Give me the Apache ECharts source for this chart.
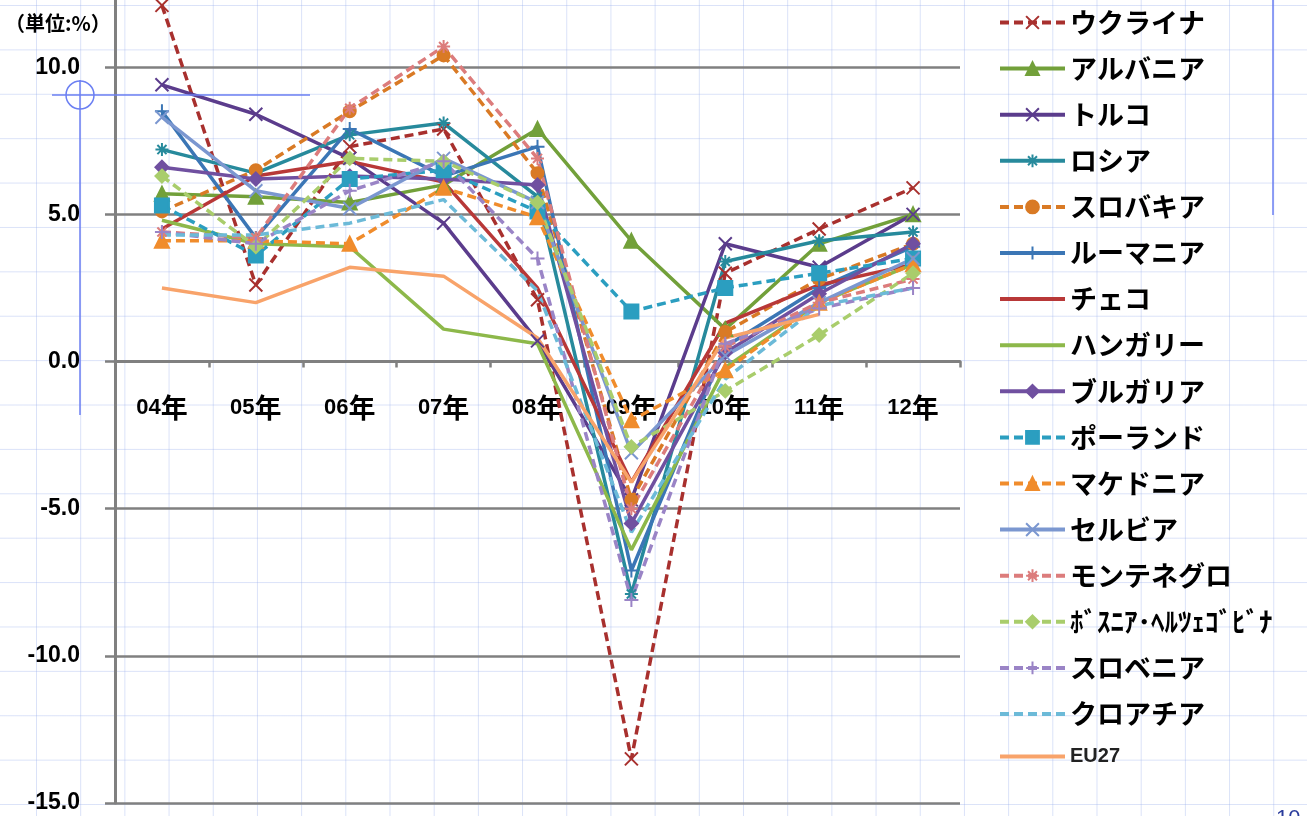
<!DOCTYPE html>
<html><head><meta charset="utf-8">
<script src="https://cdn.jsdelivr.net/npm/echarts@6.0.0/dist/echarts.min.js"></script>
<style>
html,body{margin:0;padding:0;width:1307px;height:816px;overflow:hidden;background-color:#fff;
background-image:linear-gradient(to right, rgba(150,172,235,0.35) 1px, transparent 1px),linear-gradient(to bottom, rgba(150,172,235,0.35) 1px, transparent 1px);
background-size:44.2px 44.4px;background-position:36px 5px;}
#c{width:1307px;height:816px;}
</style></head><body><div id="c"></div>
<script>
const categories = ['04年','05年','06年','07年','08年','09年','10年','11年','12年'];
const yTicks = [-15, -10, -5, 0, 5, 10];
const ukraine    = [12.1, 2.6, 7.3, 7.9, 2.1, -13.5, 3.0, 4.5, 5.9];
const albania    = [5.7, 5.6, 5.4, 6.0, 7.9, 4.1, 1.1, 4.0, 5.0];
const turkey     = [9.4, 8.4, 6.9, 4.7, 0.7, -4.7, 4.0, 3.2, 5.0];
const russia     = [7.2, 6.4, 7.7, 8.1, 5.6, -7.9, 3.4, 4.1, 4.4];
const slovakia   = [5.1, 6.5, 8.5, 10.4, 6.4, -4.7, 1.0, 2.8, 4.0];
const romania    = [8.5, 4.2, 7.9, 6.3, 7.3, -7.1, 0.5, 2.5, 3.9];
const czech      = [4.5, 6.3, 6.8, 6.1, 2.5, -4.1, 1.3, 2.6, 3.3];
const hungary    = [4.8, 4.0, 3.9, 1.1, 0.6, -6.4, -0.2, 2.0, 3.3];
const bulgaria   = [6.6, 6.2, 6.3, 6.2, 6.0, -5.5, 0.3, 2.3, 4.0];
const poland     = [5.3, 3.6, 6.2, 6.5, 5.1, 1.7, 2.5, 3.0, 3.5];
const macedonia  = [4.1, 4.1, 4.0, 5.9, 4.9, -2.0, -0.3, 2.0, 3.3];
const serbia     = [8.3, 5.8, 5.2, 6.9, 5.4, -3.1, 0.2, 2.0, 3.5];
const montenegro = [4.4, 4.2, 8.6, 10.7, 6.9, -5.0, 0.5, 2.0, 2.8];
const bosnia     = [6.3, 3.9, 6.9, 6.8, 5.4, -2.9, -1.0, 0.9, 3.0];
const slovenia   = [4.4, 4.0, 5.8, 6.8, 3.5, -8.1, 0.6, 1.8, 2.5];
const croatia    = [4.3, 4.3, 4.7, 5.5, 2.4, -5.8, -0.6, 1.9, 2.5];
const eu27       = [2.5, 2.0, 3.2, 2.9, 0.8, -4.1, 0.8, 1.6, null];

const X = 'path://M0,0L10,10M10,0L0,10';
const STAR = 'path://M5,0L5,10M0,5L10,5M1.5,1.5L8.5,8.5M8.5,1.5L1.5,8.5';
const PLUS = 'path://M5,0L5,10M0,5L10,5';

const defs = [
  ['ウクライナ', ukraine, '#a8302e', 'dash', X, 13],
  ['アルバニア', albania, '#72a03a', 'solid', 'triangle', 14],
  ['トルコ', turkey, '#5b3c8c', 'solid', X, 13],
  ['ロシア', russia, '#278a9c', 'solid', STAR, 13],
  ['スロバキア', slovakia, '#d97a25', 'dash', 'circle', 12],
  ['ルーマニア', romania, '#3b76b5', 'solid', PLUS, 14],
  ['チェコ', czech, '#b83838', 'solid', null, 0],
  ['ハンガリー', hungary, '#8db84a', 'solid', null, 0],
  ['ブルガリア', bulgaria, '#7050a0', 'solid', 'diamond', 13],
  ['ポーランド', poland, '#2b9ec0', 'dash', 'rect', 14],
  ['マケドニア', macedonia, '#f08c2c', 'dash', 'triangle', 14],
  ['セルビア', serbia, '#7b97d0', 'solid', X, 13],
  ['モンテネグロ', montenegro, '#dc7c7c', 'dash', STAR, 13],
  ['ﾎﾞｽﾆｱ･ﾍﾙﾂｪｺﾞﾋﾞﾅ', bosnia, '#a9cd6c', 'dash', 'diamond', 13],
  ['スロベニア', slovenia, '#9a84c6', 'dash', PLUS, 14],
  ['クロアチア', croatia, '#6cbad8', 'dash', null, 0],
  ['EU27', eu27, '#f8a36a', 'solid', null, 0]
];

const series = defs.map(d => ({
  name: d[0], type: 'line', data: d[1], xAxisIndex: 0, yAxisIndex: 0,
  symbol: d[4] || 'circle', symbolSize: d[4] ? d[5] : 4, showSymbol: !!d[4],
  connectNulls: false,
  lineStyle: {color: d[2], width: 3.5, type: d[3] === 'dash' ? [9, 5] : 'solid'},
  itemStyle: {color: d[2], borderColor: d[2], borderWidth: d[4] ? 2 : 0, opacity: d[4] ? 1 : 0},
  emphasis: {disabled: true},
  animation: false
}));

const chart = echarts.init(document.getElementById('c'), null, {renderer: 'canvas'});
const blue = '#6b7ff2';
const gray = '#808080';
chart.setOption({
  backgroundColor: 'transparent',
  animation: false,
  title: {text: '（単位:%）', left: 0, top: 8,
    textStyle: {fontSize: 20, fontWeight: 'bold', color: '#000', fontFamily: '"Noto Sans CJK JP", sans-serif'}},
  grid: [
    {left: 115, right: 347, top: -80, bottom: 13, containLabel: false, outerBoundsMode: 'none'},
    {left: 115, right: 347, top: 0, bottom: 454.5, containLabel: false, outerBoundsMode: 'none'}
  ],
  legend: {
    orient: 'vertical', left: 993, top: 4, itemWidth: 65, itemHeight: 16, itemGap: 19.1,
    data: defs.map(d => d[0]),
    lineStyle: {width: 4},
    formatter: n => n === 'EU27' ? '{s|EU27}' : '{b|' + n + '}',
    textStyle: {color: '#000', rich: {
      b: {fontSize: 27, fontWeight: 'bold', lineHeight: 30, fontFamily: '"Noto Sans CJK JP", sans-serif', color: '#000'},
      s: {fontSize: 20, fontWeight: 'bold', lineHeight: 30, fontFamily: '"Liberation Sans", sans-serif', color: '#222'}
    }}
  },
  xAxis: [
    {type: 'category', gridIndex: 0, data: categories, boundaryGap: true, show: false},
    {type: 'category', gridIndex: 1, data: categories, boundaryGap: true, position: 'bottom',
      axisLine: {onZero: false, lineStyle: {color: gray, width: 3}},
      axisTick: {show: true, length: 6, lineStyle: {color: gray, width: 2.5}},
      axisLabel: {margin: 33, interval: 0,
        formatter: v => '{n|' + v.slice(0, 2) + '}{k|' + v.slice(2) + '}',
        rich: {
          n: {fontSize: 22, fontWeight: 'bold', color: '#000', fontFamily: '"Liberation Sans", sans-serif'},
          k: {fontSize: 27, fontWeight: 'bold', color: '#000', fontFamily: '"Noto Sans CJK JP", sans-serif'}
        }}}
  ],
  yAxis: [
    {type: 'value', gridIndex: 0, min: -15, max: 15, interval: 5,
      axisLine: {show: true, lineStyle: {color: gray, width: 3}},
      axisTick: {show: true, length: 10, lineStyle: {color: gray, width: 2.5}},
      splitLine: {show: true, lineStyle: {color: gray, width: 2.5}},
      axisLabel: {margin: 35, fontSize: 23, fontWeight: 'bold', color: '#000',
        fontFamily: '"Liberation Sans", sans-serif',
        formatter: v => yTicks.indexOf(v) >= 0 ? v.toFixed(1) : ''}},
    {type: 'value', gridIndex: 1, min: 0, max: 1, show: false}
  ],
  graphic: [
    {type: 'line', shape: {x1: 52, y1: 95, x2: 310, y2: 95}, style: {stroke: blue, lineWidth: 1.5}, z: 100},
    {type: 'line', shape: {x1: 80, y1: 80, x2: 80, y2: 415}, style: {stroke: blue, lineWidth: 1.5}, z: 100},
    {type: 'circle', shape: {cx: 80, cy: 95, r: 14}, style: {stroke: blue, fill: null, lineWidth: 1.5}, z: 100},
    {type: 'line', shape: {x1: 1273, y1: 0, x2: 1273, y2: 215}, style: {stroke: blue, lineWidth: 1.5}, z: 100},
    {type: 'text', left: 1276, top: 808, style: {text: '10', fontSize: 22, fill: '#2a3c9c', fontFamily: '"Liberation Sans", sans-serif'}, z: 100}
  ],
  series: series
});
</script></body></html>
